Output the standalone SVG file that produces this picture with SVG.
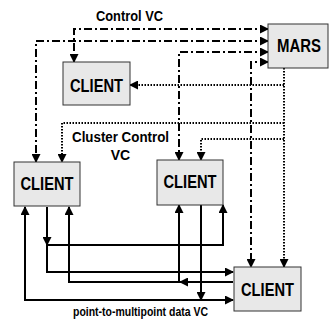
<svg xmlns="http://www.w3.org/2000/svg" width="329" height="323" viewBox="0 0 329 323">
<defs>
<marker id="ah" markerUnits="userSpaceOnUse" markerWidth="9" markerHeight="9" refX="8" refY="4.5" orient="auto-start-reverse" viewBox="0 0 9 9">
<path d="M0,0 L9,4.5 L0,9 z" fill="#000"/>
</marker>
<style>
.box{fill:#e8e8e8;stroke:#333;stroke-width:1}
.lbl{font-family:"Liberation Sans",Arial,sans-serif;font-weight:bold;font-size:18px;fill:#000;text-anchor:middle}
.cap{font-family:"Liberation Sans",Arial,sans-serif;font-weight:bold;font-size:14px;fill:#000;text-anchor:middle}
.dd{fill:none;stroke:#000;stroke-width:2;stroke-dasharray:8 3 2 3}
.dot{fill:none;stroke:#000;stroke-width:2;stroke-dasharray:1.5 1.5}
.sol{fill:none;stroke:#000;stroke-width:2}
</style>
</defs>
<g id="connectors">
<path class="dd" d="M268,29 H74 V62" marker-start="url(#ah)" marker-end="url(#ah)"/>
<path class="dd" d="M268,41 H36 V162" marker-start="url(#ah)" marker-end="url(#ah)"/>
<path class="dd" d="M268,52 H179 V160" marker-start="url(#ah)" marker-end="url(#ah)"/>
<path class="dd" d="M268,62 H251 V267" marker-start="url(#ah)" marker-end="url(#ah)"/>
<path class="dot" d="M284,68 V267" marker-end="url(#ah)"/>
<path class="dot" d="M284,85 H130" marker-end="url(#ah)"/>
<path class="dot" d="M284,123 H62 V162" marker-end="url(#ah)"/>
<path class="dot" d="M284,139 H201 V160" marker-end="url(#ah)"/>
<path class="sol" d="M47,207 V272 H233" marker-end="url(#ah)"/>
<path class="sol" d="M47,207 V245" marker-end="url(#ah)"/>
<path class="sol" d="M47,245 H223 V205" marker-end="url(#ah)"/>
<path class="sol" d="M233,282 H69 V207" marker-end="url(#ah)"/>
<path class="sol" d="M233,282 H180" marker-end="url(#ah)"/>
<path class="sol" d="M179,282 V205" marker-end="url(#ah)"/>
<path class="sol" d="M201,205 V300" marker-end="url(#ah)"/>
<path class="sol" d="M201,300 H233" marker-end="url(#ah)"/>
<path class="sol" d="M201,300 H25 V207" marker-end="url(#ah)"/>
</g>
<g id="mars">
<rect class="box" x="268" y="24" width="60" height="44"/>
<text class="lbl" x="299" y="52" textLength="44" lengthAdjust="spacingAndGlyphs">MARS</text>
</g>
<g id="client-top">
<rect class="box" x="63" y="62" width="67" height="43"/>
<text class="lbl" x="96.5" y="92" textLength="53" lengthAdjust="spacingAndGlyphs">CLIENT</text>
</g>
<g id="client-left">
<rect class="box" x="14" y="162" width="66" height="44"/>
<text class="lbl" x="47" y="190" textLength="53" lengthAdjust="spacingAndGlyphs">CLIENT</text>
</g>
<g id="client-mid">
<rect class="box" x="157" y="160" width="66" height="45"/>
<text class="lbl" x="190" y="188" textLength="53" lengthAdjust="spacingAndGlyphs">CLIENT</text>
</g>
<g id="client-br">
<rect class="box" x="234" y="267" width="67" height="44"/>
<text class="lbl" x="267.5" y="296" textLength="53" lengthAdjust="spacingAndGlyphs">CLIENT</text>
</g>
<g id="labels">
<text class="cap" x="129.5" y="21" textLength="67" lengthAdjust="spacingAndGlyphs">Control VC</text>
<text class="cap" x="120.5" y="142" textLength="97" lengthAdjust="spacingAndGlyphs">Cluster Control</text>
<text class="cap" x="120.5" y="160">VC</text>
<text class="cap" x="140.5" y="316" style="font-size:13px" textLength="135" lengthAdjust="spacingAndGlyphs">point-to-multipoint data VC</text>
</g>
</svg>
